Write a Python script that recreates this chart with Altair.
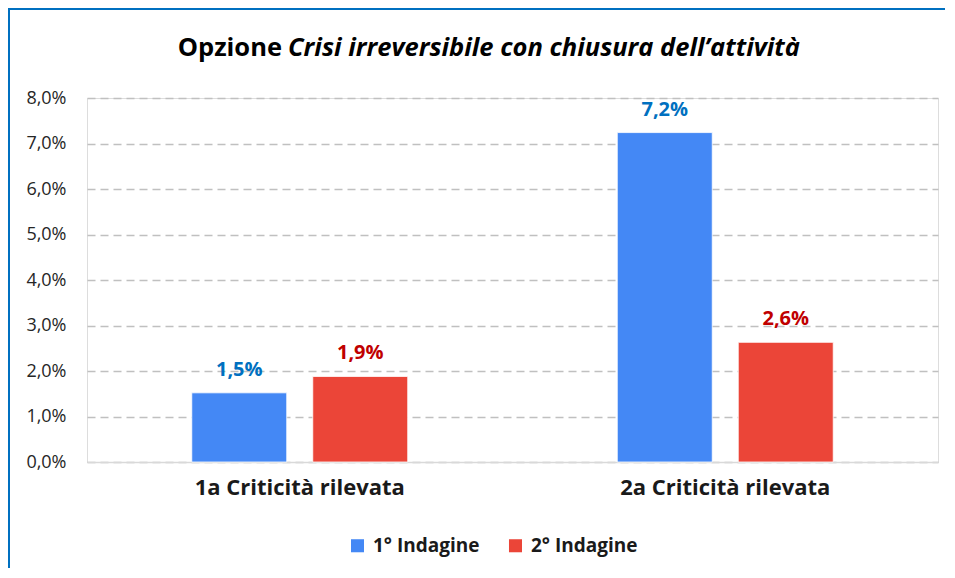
import altair as alt
import pandas as pd

categories = ["1a Criticità rilevata", "2a Criticità rilevata"]
series = ["1° Indagine", "2° Indagine"]
values_1 = [1.52, 7.24]
values_2 = [1.88, 2.63]
labels_1 = ["1,5%", "7,2%"]
labels_2 = ["1,9%", "2,6%"]
y_ticks = [0, 1, 2, 3, 4, 5, 6, 7, 8]

rows = []
for c, v, l in zip(categories, values_1, labels_1):
    rows.append({"cat": c, "serie": series[0], "val": v, "lab": l})
for c, v, l in zip(categories, values_2, labels_2):
    rows.append({"cat": c, "serie": series[1], "val": v, "lab": l})
df = pd.DataFrame(rows)

FONT = "Open Sans"
W, H = 851, 364

xenc = alt.X("cat:N", sort=categories,
             scale=alt.Scale(paddingInner=0, paddingOuter=0),
             axis=alt.Axis(title=None, labelAngle=0, labelFontSize=22, labelFontWeight="bold",
                           labelColor="#1a1a1a", labelPadding=15, ticks=False, labelLimit=500,
                           domainColor="#D9D9D9", domainWidth=1.5, grid=False, labelFont=FONT))
xoff = alt.XOffset("serie:N", sort=series,
                   scale=alt.Scale(paddingInner=0.215, paddingOuter=0.866))
yenc = alt.Y("val:Q", scale=alt.Scale(domain=[0, 8]),
             axis=alt.Axis(title=None, values=y_ticks, labelFontSize=18, labelColor="#262626",
                           labelPadding=21, ticks=False, domain=False, grid=True,
                           gridColor="#C0C0C0", gridDash=[8, 5], gridWidth=1.5,
                           labelFont=FONT,
                           labelExpr="replace(format(datum.value, '.1f'), '.', ',') + '%'"))

color = alt.Color("serie:N", sort=series,
                  scale=alt.Scale(domain=series, range=["#4488F5", "#EB4538"]),
                  legend=alt.Legend(title=None, orient="none", legendX=261, legendY=438,
                                    direction="horizontal", symbolType="square", symbolSize=170,
                                    symbolStrokeWidth=0, labelFontSize=19, labelFontWeight="bold",
                                    labelColor="#1a1a1a", labelFont=FONT, columnPadding=26,
                                    labelOffset=6))

bars = alt.Chart(df).mark_bar(stroke="white", strokeWidth=0.8).encode(
    x=xenc, xOffset=xoff, y=yenc, color=color
)

texts = alt.Chart(df).mark_text(baseline="alphabetic", dy=-17, fontSize=20, fontWeight="bold",
                                font=FONT).encode(
    x=alt.X("cat:N", sort=categories), xOffset=alt.XOffset("serie:N", sort=series),
    y="val:Q", text="lab:N",
    color=alt.Color("serie:N", sort=series,
                    scale=alt.Scale(domain=series, range=["#0070C0", "#C00000"]), legend=None)
)

title_df = pd.DataFrame({"a": [0]})
title_a = alt.Chart(title_df).mark_text(text="Opzione", align="right", baseline="middle",
                                        fontSize=25.5, fontWeight="bold", font=FONT,
                                        color="#000000").encode(
    x=alt.value(195), y=alt.value(-50))
title_b = alt.Chart(title_df).mark_text(text="Crisi irreversibile con chiusura dell’attività",
                                        align="left", baseline="middle", fontSize=25.5,
                                        fontWeight="bold", fontStyle="italic", font=FONT,
                                        color="#000000").encode(
    x=alt.value(201), y=alt.value(-50))

frame_top = alt.Chart(title_df).mark_rule(color="#0070C0", strokeWidth=2).encode(
    x=alt.value(-79), x2=alt.value(858), y=alt.value(-89))
frame_left = alt.Chart(title_df).mark_rule(color="#0070C0", strokeWidth=2).encode(
    x=alt.value(-78), y=alt.value(-90), y2=alt.value(470))

chart = alt.layer(bars, texts, title_a, title_b, frame_top, frame_left).resolve_scale(
    color="independent").properties(
    width=W, height=H,
    autosize=alt.AutoSizeParams(type="none"),
    padding={"left": 79, "top": 90, "right": 9, "bottom": 108},
).configure_view(stroke=None).configure(font=FONT, background="white")

chart.save("out.html", embed_options={"renderer": "svg", "actions": False})
